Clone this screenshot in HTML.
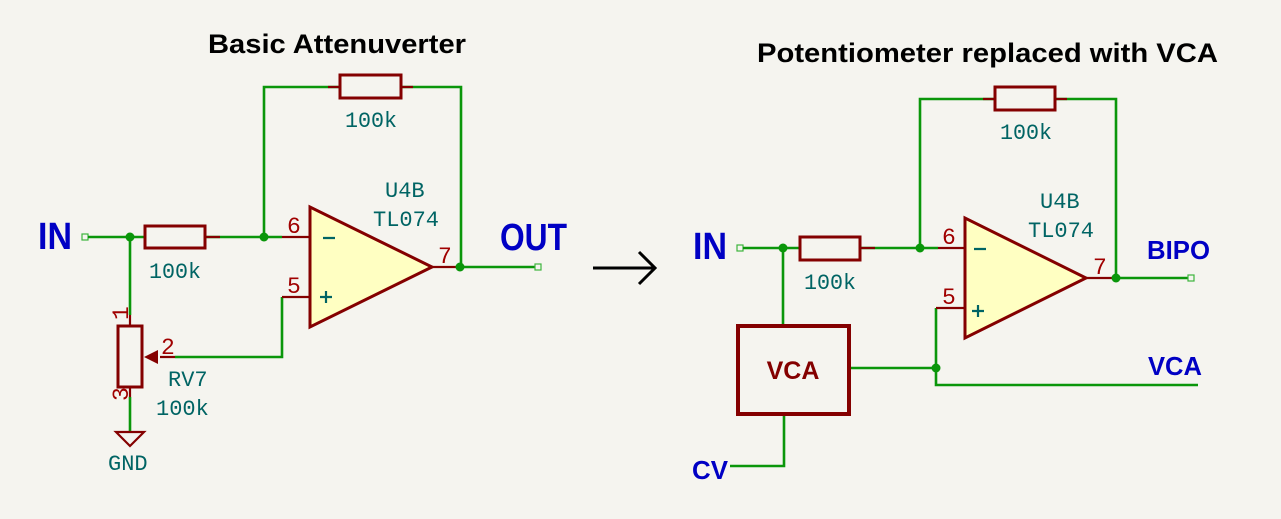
<!DOCTYPE html>
<html><head><meta charset="utf-8"><style>
html,body{margin:0;padding:0;background:#f5f4ef;}
svg{display:block}
.w{stroke:#0a960a;stroke-width:2.6;fill:none}
.c{stroke:#840000;stroke-width:3;fill:none}
.p{stroke:#840000;stroke-width:2.2;fill:none}
.t{font-family:"Liberation Mono",monospace;fill:#006464;font-size:22px}
.n{font-family:"Liberation Mono",monospace;fill:#a00000;font-size:23px}
.b{font-family:"Liberation Sans",sans-serif;font-weight:bold;fill:#0000c4}
.h{font-family:"Liberation Sans",sans-serif;font-weight:bold;fill:#000;font-size:27px}
</style></head><body>
<svg width="1281" height="519" viewBox="0 0 1281 519" xmlns="http://www.w3.org/2000/svg">
<rect width="1281" height="519" fill="#f5f4ef"/>
<!-- titles -->
<text class="h" x="208" y="53" textLength="258" lengthAdjust="spacingAndGlyphs">Basic Attenuverter</text>
<text class="h" x="757" y="62" textLength="461" lengthAdjust="spacingAndGlyphs">Potentiometer replaced with VCA</text>

<!-- LEFT CIRCUIT -->
<text class="b" x="38" y="249" font-size="38" textLength="34" lengthAdjust="spacingAndGlyphs">IN</text>
<rect x="82" y="234" width="6" height="6" fill="none" stroke="#3cb43c" stroke-width="1.2"/>
<path class="w" d="M88 237 H130 M130 237 V315 M264 237 V87 H340 M401 87 H461 V267 M130 237 H145 M205 237 H282 M460 267 H535 M282 297 V357 H175 M130 397 V432"/>
<rect x="535" y="264" width="6" height="6" fill="none" stroke="#3cb43c" stroke-width="1.2"/>
<path class="p" d="M205 237 H220 M282 237 H310 M282 297 H310 M432 267 H460 M328 87 H340 M401 87 H413 M130 315 V325 M130 387 V397 M160 357 H175"/>
<rect class="c" x="145" y="226" width="60" height="22"/>
<rect class="c" x="340" y="75" width="61" height="23"/>
<polygon points="310,207 310,327 432,267" fill="#ffffc2" stroke="#840000" stroke-width="3" stroke-linejoin="miter"/>
<path d="M323 238 H335 M320 297 H332 M326 291 V303" stroke="#006464" stroke-width="2.2"/>
<rect class="c" x="118" y="326" width="24" height="61"/>
<polygon points="144,357 158,350 158,364" fill="#840000"/>
<polygon points="116,432 144,432 130,446" fill="none" stroke="#840000" stroke-width="2.2"/>
<circle cx="130" cy="237" r="4.5" fill="#0a960a"/>
<circle cx="264" cy="237" r="4.5" fill="#0a960a"/>
<circle cx="460" cy="267" r="4.5" fill="#0a960a"/>
<text class="t" x="345" y="127" textLength="52" lengthAdjust="spacingAndGlyphs">100k</text>
<text class="t" x="149" y="278" textLength="52" lengthAdjust="spacingAndGlyphs">100k</text>
<text class="t" x="385" y="197">U4B</text>
<text class="t" x="373" y="226">TL074</text>
<text class="t" x="168" y="386">RV7</text>
<text class="t" x="156" y="415">100k</text>
<text class="t" x="108" y="470">GND</text>
<text class="b" x="500" y="250" font-size="38" textLength="67" lengthAdjust="spacingAndGlyphs">OUT</text>
<text class="n" x="287" y="233">6</text>
<text class="n" x="287" y="293">5</text>
<text class="n" x="438" y="263">7</text>
<text class="n" x="161" y="354">2</text>
<text class="n" x="0" y="0" transform="translate(128,320) rotate(-90)" font-size="19">1</text>
<text class="n" x="0" y="0" transform="translate(128,401) rotate(-90)" font-size="19">3</text>

<!-- arrow -->
<path d="M593 268 H653 M639 252 L655 268 L639 284" stroke="#000" stroke-width="3" fill="none"/>

<!-- RIGHT CIRCUIT -->
<text class="b" x="693" y="259" font-size="38" textLength="34" lengthAdjust="spacingAndGlyphs">IN</text>
<rect x="737" y="245" width="6" height="6" fill="none" stroke="#3cb43c" stroke-width="1.2"/>
<path class="w" d="M743 248 H800 M783 248 V325 M860 248 H938 M920 248 V99 H995 M1055 99 H1116 V278 M1116 278 H1188 M936 308 V385 H1198 M850 368 H936 M784 415 V466 H730"/>
<rect x="1188" y="275" width="6" height="6" fill="none" stroke="#3cb43c" stroke-width="1.2"/>
<path class="p" d="M860 248 H875 M938 248 H965 M936 308 H965 M1086 278 H1116 M983 99 H995 M1055 99 H1067"/>
<rect class="c" x="800" y="237" width="60" height="23"/>
<rect class="c" x="995" y="87" width="60" height="23"/>
<polygon points="965,218 965,338 1086,278" fill="#ffffc2" stroke="#840000" stroke-width="3"/>
<path d="M974 249 H986 M972 311 H984 M978 305 V317" stroke="#006464" stroke-width="2.2"/>
<rect x="738" y="326" width="111" height="88" fill="none" stroke="#840000" stroke-width="4"/>
<text x="793" y="379" font-family="Liberation Sans,sans-serif" font-weight="bold" font-size="25" fill="#840000" text-anchor="middle">VCA</text>
<circle cx="783" cy="248" r="4.5" fill="#0a960a"/>
<circle cx="920" cy="248" r="4.5" fill="#0a960a"/>
<circle cx="1116" cy="278" r="4.5" fill="#0a960a"/>
<circle cx="936" cy="368" r="4.5" fill="#0a960a"/>
<text class="t" x="1000" y="139" textLength="52" lengthAdjust="spacingAndGlyphs">100k</text>
<text class="t" x="804" y="289" textLength="52" lengthAdjust="spacingAndGlyphs">100k</text>
<text class="t" x="1040" y="208">U4B</text>
<text class="t" x="1028" y="237">TL074</text>
<text class="n" x="942" y="244">6</text>
<text class="n" x="942" y="304">5</text>
<text class="n" x="1093" y="274">7</text>
<text class="b" x="1147" y="259" font-size="26" textLength="63" lengthAdjust="spacingAndGlyphs">BIPO</text>
<text class="b" x="1148" y="375" font-size="26" textLength="54" lengthAdjust="spacingAndGlyphs">VCA</text>
<text class="b" x="692" y="479" font-size="26" textLength="36" lengthAdjust="spacingAndGlyphs">CV</text>
</svg>
</body></html>
